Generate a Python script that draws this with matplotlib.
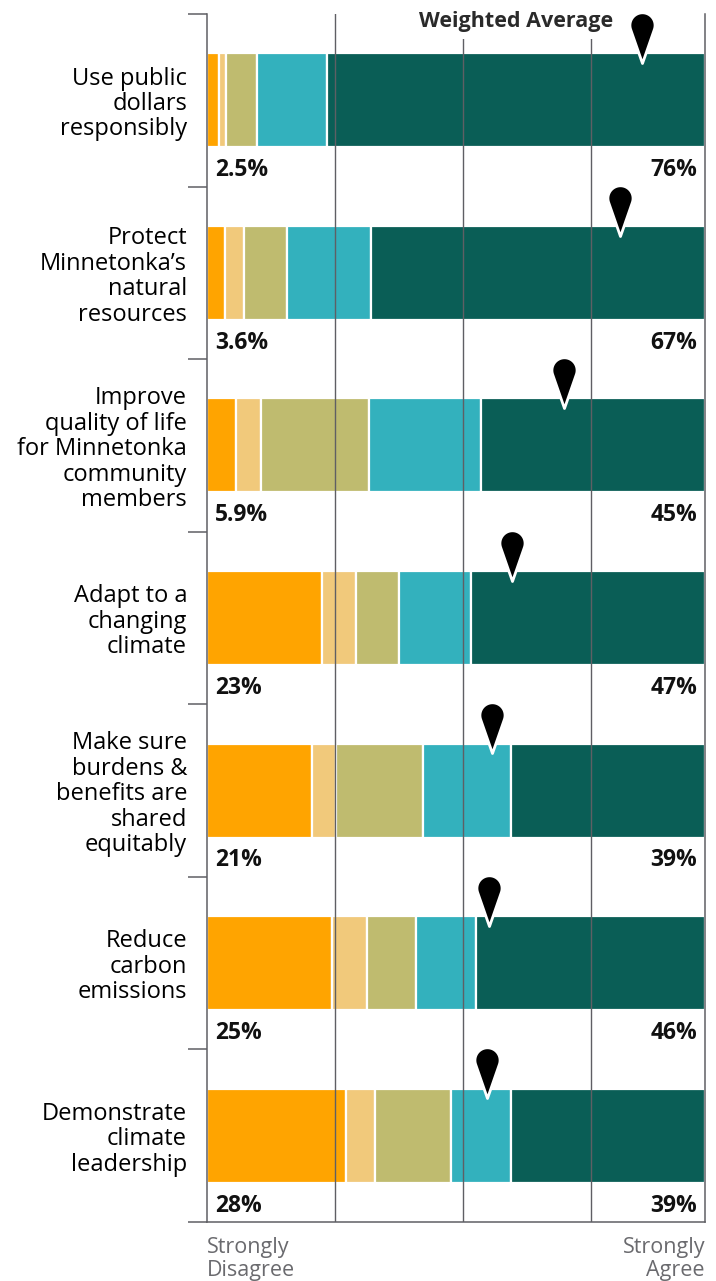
import numpy as np
import matplotlib.pyplot as plt
from matplotlib.path import Path

plt.rcParams['font.family'] = ['Open Sans', 'DejaVu Sans']

# Данные опроса: доли ответов (%) и средневзвешенная оценка (1-5)
categories = [
    "Use public\ndollars\nresponsibly",
    "Protect\nMinnetonka’s\nnatural\nresources",
    "Improve\nquality of life\nfor Minnetonka\ncommunity\nmembers",
    "Adapt to a\nchanging\nclimate",
    "Make sure\nburdens &\nbenefits are\nshared\nequitably",
    "Reduce\ncarbon\nemissions",
    "Demonstrate\nclimate\nleadership",
]
strongly_disagree = [2.5, 3.6, 5.9, 23, 21, 25, 28]
disagree = [1.3, 3.8, 4.9, 7.0, 4.9, 7.1, 5.8]
neutral = [6.2, 8.7, 21.8, 8.6, 17.4, 9.9, 15.2]
agree = [14.0, 16.9, 22.4, 14.4, 17.7, 12.0, 12.0]
strongly_agree = [76, 67, 45, 47, 39, 46, 39]
weighted_avg = [4.40, 4.23, 3.79, 3.38, 3.23, 3.20, 3.19]

colors = ['#ffa400', '#f1c97b', '#bfbb6f', '#33b1bd', '#0a5e56']
grey = '#5f5f64'

fig = plt.figure(figsize=(7.16, 12.81), dpi=100)
ax = fig.add_axes([207 / 716, 59 / 1281, 498 / 716, 1208 / 1281])

y = np.arange(len(categories))
left = np.zeros(len(categories))
for vals, c in zip([strongly_disagree, disagree, neutral, agree, strongly_agree], colors):
    ax.barh(y, vals, left=left, height=0.545, color=c, edgecolor='white', linewidth=1.6, zorder=2)
    left += np.array(vals)

# Подписи процентов под полосами
for i in y:
    ax.text(1.6, i + 0.405, f"{strongly_disagree[i]:g}%", ha='left', va='center',
            fontsize=16.5, fontweight='bold', color='#111111')
    ax.text(98.4, i + 0.405, f"{strongly_agree[i]:g}%", ha='right', va='center',
            fontsize=16.5, fontweight='bold', color='#111111')

ax.set_xlim(0, 100)
ax.set_ylim(len(categories) - 0.5, -0.5)
ax.set_xticks([])
ax.set_yticks(y)
ax.set_yticklabels(categories, fontsize=17, linespacing=1.08, ha='right')
ax.set_yticks(np.arange(-0.5, len(categories), 1), minor=True)
ax.tick_params(axis='y', which='major', length=0, pad=14.4)
ax.tick_params(axis='y', which='minor', length=14, width=1.1, color=grey)
ax.spines['top'].set_visible(False)
for s in ['left', 'right', 'bottom']:
    ax.spines[s].set_color(grey)
    ax.spines[s].set_linewidth(1.1)

# Шкала средневзвешенной оценки поверх полос
ax2 = ax.twiny()
ax2.set_xlim(1, 1 + 498 / 128)
ax2.set_ylim(ax.get_ylim())
ax2.set_xticks([])
for s in ax2.spines.values():
    s.set_visible(False)
for g in [2, 3, 4]:
    ax2.axvline(g, color=grey, linewidth=1.0, zorder=1)

# Маркер-булавка: острие в точке данных
r, cy = 12.5, 38
t = np.arccos(r / cy)
ang = np.linspace(-np.pi / 2 + t, 3 * np.pi / 2 - t, 40)
verts = np.column_stack([r * np.cos(ang), cy + r * np.sin(ang)])
verts = np.vstack([verts, [0, 0], verts[:1]])
pin = Path(verts, closed=True)
ax2.plot(weighted_avg, y - 0.216, linestyle='none', marker=pin, markersize=73,
         color='black', markeredgecolor='white', markeredgewidth=2, zorder=4)

ax2.text(0.62, 0.994, "Weighted Average", transform=ax2.transAxes, ha='center', va='center',
         fontsize=15.5, fontweight='bold', color='#2a2a2a', zorder=3,
         bbox=dict(facecolor='white', edgecolor='none', pad=5))

fig.text(207 / 716, 1 - 1237 / 1281, "Strongly\nDisagree", ha='left', va='top',
         fontsize=15.5, color='#6a6a6e', linespacing=1.12)
fig.text(705 / 716, 1 - 1237 / 1281, "Strongly\nAgree", ha='right', va='top',
         fontsize=15.5, color='#6a6a6e', linespacing=1.12)

fig.savefig('out.png', dpi=100)
